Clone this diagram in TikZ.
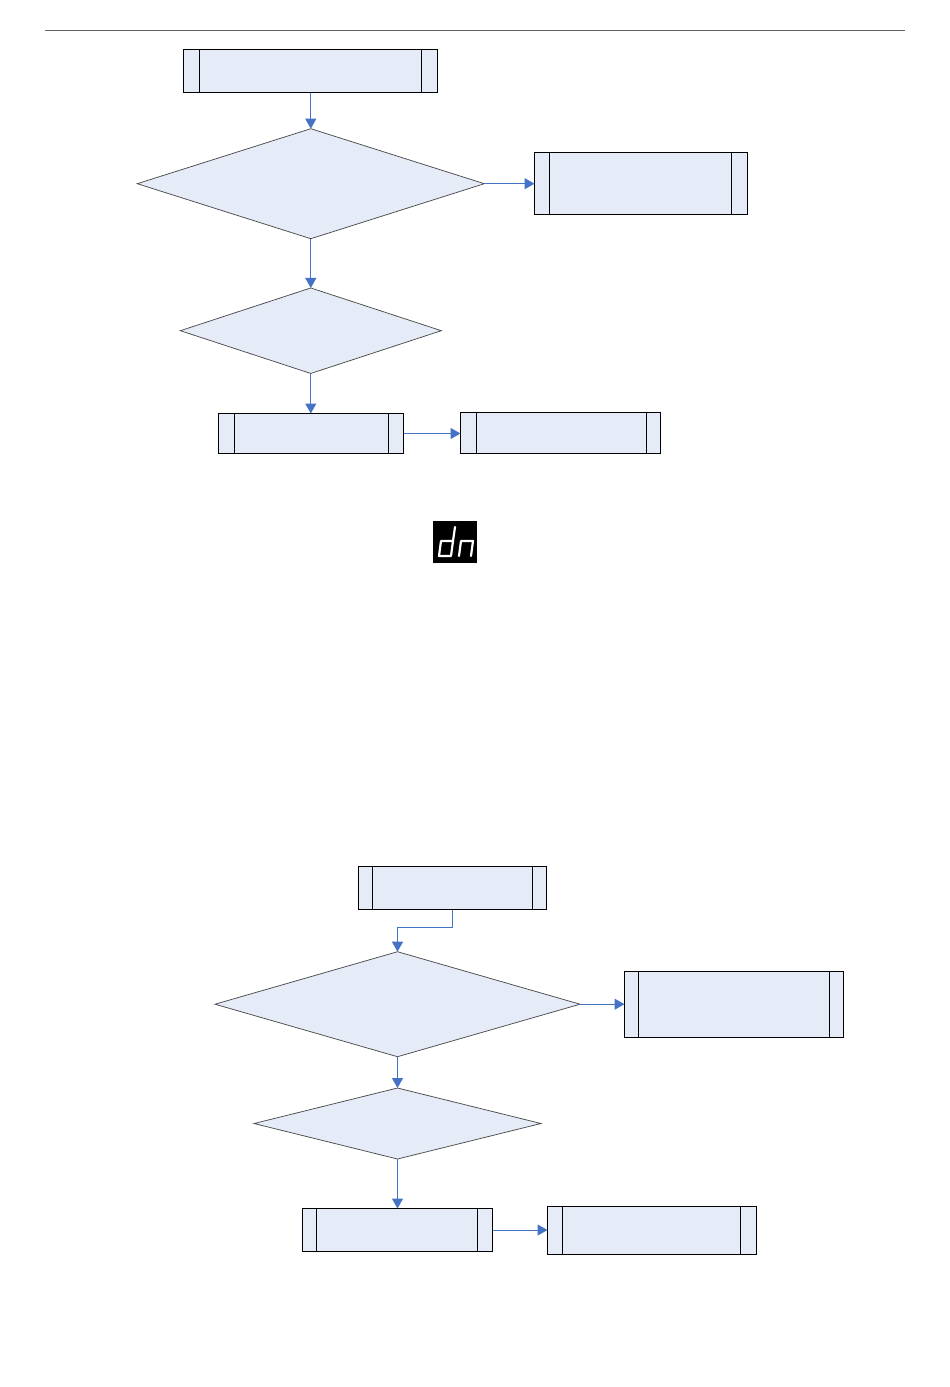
\documentclass[tikz,border=0pt]{standalone}
\usetikzlibrary{shapes.geometric,arrows.meta}
\definecolor{boxfill}{HTML}{E6ECF7}
\definecolor{flow}{HTML}{4472C4}
\tikzset{
  x=1pt,y=-1pt,
  procbox/.style n args={2}{draw=black,line width=1pt,fill=boxfill,rectangle,inner sep=0pt,outer sep=0pt,
    minimum width=#1,minimum height=#2,anchor=center},
  bar/.style={draw=black,line width=1pt},
  decision/.style n args={2}{draw=black!70,line width=0.75pt,fill=boxfill,diamond,inner sep=0pt,outer sep=0pt,
    minimum width=#1,minimum height=#2,anchor=center},
  flowline/.style={draw=flow,line width=1pt,-{Triangle[length=10pt,width=11pt]}},
  segment/.style={draw=white,line width=2.2pt,line cap=round,line join=round},
}
\newcommand{\procnode}[7]{% name, x1, y1, x2, y2, bar1, bar2
  \node[procbox={#4pt-#2pt}{#5pt-#3pt}] (#1) at ({(#2+#4)/2},{(#3+#5)/2}) {};
  \draw[bar] (#6,#3) -- (#6,#5);
  \draw[bar] (#7,#3) -- (#7,#5);
}
\begin{document}
\begin{tikzpicture}
\useasboundingbox (0,0) rectangle (950,1387);
\coordinate (ruleL) at (45,30.5);
\coordinate (ruleR) at (905,30.5);
\draw[black!62,line width=1.6pt] (ruleL) -- (ruleR);

\procnode{A}{183.5}{49}{437.5}{92.5}{199.5}{421.5}
\procnode{B}{534.5}{152.5}{747.5}{214.5}{549.5}{731.5}
\procnode{C}{218.5}{413.5}{403.5}{453.5}{234.5}{388.5}
\procnode{D}{460.5}{412}{660.5}{453.5}{476.5}{646.5}
\node[decision={347pt}{110pt}] (Q1) at (310.8,183.7) {};
\node[decision={261pt}{85.5pt}] (Q2) at (310.8,330.7) {};

\fill[black] (433,521) rectangle (477,563);
\draw[segment] (455,527) -- (453,541) -- (451,556) -- (439,556) -- (441,541) -- (453,541);
\draw[segment] (459,556) -- (461,541) -- (473,541) -- (471,556);

\procnode{E}{358.5}{866.5}{546.5}{909.5}{372.5}{532.5}
\procnode{F}{624.5}{971.5}{843.5}{1037.5}{638.5}{829.5}
\procnode{G}{302.5}{1208.5}{492.5}{1251.5}{316.5}{477.5}
\procnode{H}{547.5}{1206.5}{756.5}{1254.5}{562.5}{740.5}
\node[decision={365pt}{105pt}] (Q3) at (397.5,1004.2) {};
\node[decision={287pt}{71pt}] (Q4) at (397.5,1123.5) {};

\draw[flowline] (A.south -| Q1.north) -- (Q1.north);
\draw[flowline] (Q1.east) -- (B.west |- Q1.east);
\draw[flowline] (Q1.south) -- (Q2.north);
\draw[flowline] (Q2.south) -- (C.north -| Q2.south);
\draw[flowline] (C.east) -- (D.west |- C.east);
\draw[flowline] (E.south) |- ++(-55,18) -- (Q3.north);
\draw[flowline] (Q3.east) -- (F.west |- Q3.east);
\draw[flowline] (Q3.south) -- (Q4.north);
\draw[flowline] (Q4.south) -- (G.north);
\draw[flowline] (G.east) -- (H.west |- G.east);
\end{tikzpicture}
\end{document}
